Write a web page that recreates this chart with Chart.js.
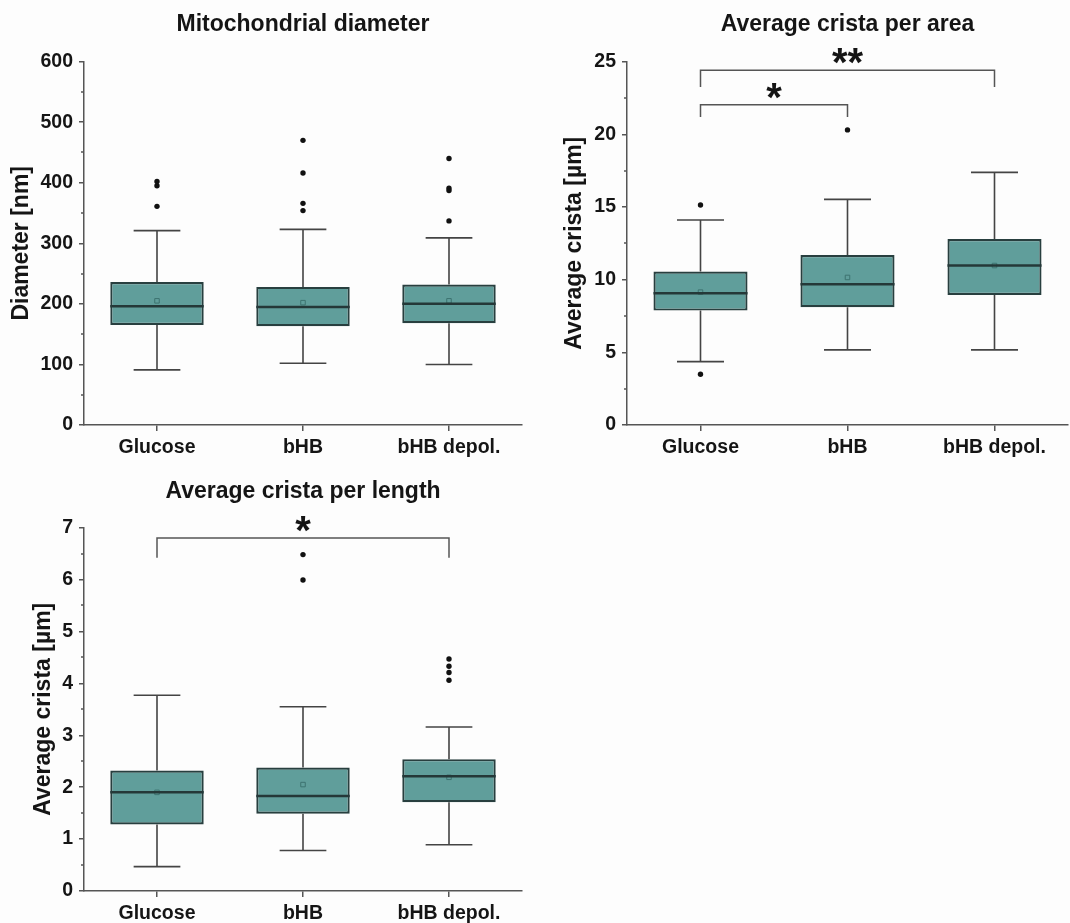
<!DOCTYPE html>
<html>
<head>
<meta charset="utf-8">
<script src="https://cdn.jsdelivr.net/npm/chart.js@4.4.1/dist/chart.umd.min.js"></script>
<style>
  html, body { margin: 0; padding: 0; background: #fdfdfd; overflow: hidden; }
  body { width: 1070px; height: 923px; position: relative; }
  canvas { position: absolute; }
  #c1 { left: 0; top: 0; }
  #c2 { left: 540px; top: 0; }
  #c3 { left: 0; top: 470px; }
</style>
</head>
<body>
<canvas id="c1" width="530" height="465"></canvas>
<canvas id="c2" width="533" height="465"></canvas>
<canvas id="c3" width="530" height="453"></canvas>

<script>
// DATOS
const categories = ['Glucose', 'bHB', 'bHB depol.']

// Mitochondrial diameter [nm]
const diamMin = [91, 102, 100]
const diamQ1 = [165, 163, 168]
const diamMedian = [196, 195, 200]
const diamQ3 = [236, 228, 232]
const diamMax = [321, 323, 309]
const diamMean = [205, 202, 205]
const diamOutliers = [[361, 395, 402], [354, 366, 416, 470], [337, 387, 391, 440]]
const diamTicks = [0, 600, 100]

// Average crista per area
const areaMin = [4.36, 5.17, 5.17]
const areaQ1 = [7.87, 8.1, 8.95]
const areaMedian = [9.07, 9.69, 10.97]
const areaQ3 = [10.56, 11.7, 12.79]
const areaMax = [14.1, 15.52, 17.38]
const areaMean = [9.14, 10.15, 10.97]
const areaOutliers = [[3.49, 15.13], [20.3], []]
const areaTicks = [0, 25, 5]
const areaBrackets = [
    { from: 0, to: 2, y: 24.4, drop: 23.25, label: '**' },
    { from: 0, to: 1, y: 22.04, drop: 21.19, label: '*' }
]

// Average crista per length
const lenMin = [0.47, 0.78, 0.89]
const lenQ1 = [1.28, 1.49, 1.71]
const lenMedian = [1.90, 1.83, 2.21]
const lenQ3 = [2.32, 2.38, 2.54]
const lenMax = [3.77, 3.55, 3.16]
const lenMean = [1.90, 2.05, 2.19]
const lenOutliers = [[], [5.99, 6.48], [4.06, 4.21, 4.33, 4.47]]
const lenTicks = [0, 7, 1]
const lenBrackets = [
    { from: 0, to: 2, y: 6.8, drop: 6.42, label: '*' }
]

const FONT = "'Liberation Sans', Arial, sans-serif"
const AXIS = '#555555'
const TEXT = '#151515'

// BIGOTES, MEDIANA, TICKS MENORES Y CORCHETES
const boxExtras = {
    id: 'boxExtras',
    afterDatasetsDraw: (chart, args, o) => {
        const ctx = chart.ctx
        const y = chart.scales.y
        const bars = chart.getDatasetMeta(0).data
        ctx.save()
        bars.forEach((bar, i) => {
            const x = bar.x
            const half = bar.width / 2
            // bigotes
            ctx.strokeStyle = '#444'
            ctx.lineWidth = 1.6
            ctx.beginPath()
            ctx.moveTo(x, y.getPixelForValue(o.q3[i]))
            ctx.lineTo(x, y.getPixelForValue(o.max[i]))
            ctx.moveTo(x - half / 2, y.getPixelForValue(o.max[i]))
            ctx.lineTo(x + half / 2, y.getPixelForValue(o.max[i]))
            ctx.moveTo(x, y.getPixelForValue(o.q1[i]))
            ctx.lineTo(x, y.getPixelForValue(o.min[i]))
            ctx.moveTo(x - half / 2, y.getPixelForValue(o.min[i]))
            ctx.lineTo(x + half / 2, y.getPixelForValue(o.min[i]))
            ctx.stroke()
            // mediana
            ctx.strokeStyle = '#243838'
            ctx.lineWidth = 2.5
            ctx.beginPath()
            ctx.moveTo(x - half, y.getPixelForValue(o.median[i]))
            ctx.lineTo(x + half, y.getPixelForValue(o.median[i]))
            ctx.stroke()
        })
        ctx.restore()
    },
    afterDraw: (chart, args, o) => {
        const ctx = chart.ctx
        const y = chart.scales.y
        const x = chart.scales.x
        ctx.save()
        // ticks menores
        const ticks = y.ticks
        ctx.strokeStyle = AXIS
        ctx.lineWidth = 1.5
        ctx.beginPath()
        for (let k = 0; k < ticks.length - 1; k++) {
            const mid = (ticks[k].value + ticks[k + 1].value) / 2
            const py = Math.round(y.getPixelForValue(mid))
            ctx.moveTo(y.right - 3, py)
            ctx.lineTo(y.right, py)
        }
        ctx.stroke()
        // corchetes de significancia
        ;(o.brackets || []).forEach(b => {
            const x1 = x.getPixelForValue(b.from)
            const x2 = x.getPixelForValue(b.to)
            const py = y.getPixelForValue(b.y)
            const pd = y.getPixelForValue(b.drop)
            ctx.strokeStyle = AXIS
            ctx.lineWidth = 1.5
            ctx.beginPath()
            ctx.moveTo(x1, pd)
            ctx.lineTo(x1, py)
            ctx.lineTo(x2, py)
            ctx.lineTo(x2, pd)
            ctx.stroke()
            ctx.fillStyle = TEXT
            ctx.font = `bold 40px ${FONT}`
            ctx.textAlign = 'center'
            ctx.textBaseline = 'alphabetic'
            ctx.fillText(b.label, (x1 + x2) / 2, py + 6)
        })
        ctx.restore()
    }
}

const makeBox = (id, title, yTitle, ticksDef, s, brackets, lay) => {
    const outliers = []
    s.outliers.forEach((list, i) => list.forEach(v => outliers.push({ x: categories[i], y: v })))

    new Chart(document.getElementById(id), {
        type: 'bar',
        data: {
            labels: categories,
            datasets: [{
                type: 'bar',
                data: categories.map((c, i) => [s.q1[i], s.q3[i]]),
                backgroundColor: '#609e9b',
                borderColor: '#283f3f',
                borderWidth: 2.2,
                borderSkipped: false,
                categoryPercentage: 1,
                barPercentage: 0.64,
                order: 3
            }, {
                type: 'line',
                data: s.mean,
                showLine: false,
                pointStyle: 'rect',
                pointRadius: 3.2,
                pointBorderWidth: 1,
                pointBorderColor: '#3d7370',
                pointBackgroundColor: 'rgba(0,0,0,0)',
                order: 1
            }, {
                type: 'line',
                data: outliers,
                showLine: false,
                pointStyle: 'circle',
                pointRadius: 2.7,
                pointBorderWidth: 0,
                pointBackgroundColor: '#111',
                order: 2
            }]
        },
        options: {
            responsive: false,
            animation: false,
            layout: { padding: { left: 0, right: lay.right, top: 0, bottom: 0 } },
            scales: {
                x: {
                    type: 'category',
                    offset: true,
                    afterFit: (scale) => { scale.height = lay.xHeight },
                    grid: { drawOnChartArea: false, offset: false, tickLength: 6, color: AXIS, lineWidth: 1.5 },
                    border: { color: AXIS, width: 1.5 },
                    ticks: { color: TEXT, padding: 5, font: { family: FONT, size: 19.5, weight: 'bold' } }
                },
                y: {
                    min: ticksDef[0],
                    max: ticksDef[1],
                    afterFit: (scale) => { scale.width = lay.yWidth },
                    grid: { drawOnChartArea: false, tickLength: 5, color: AXIS, lineWidth: 1.5 },
                    border: { color: AXIS, width: 1.5 },
                    ticks: { stepSize: ticksDef[2], color: TEXT, padding: 6, font: { family: FONT, size: 19.5, weight: 'bold' } },
                    title: {
                        display: true, text: yTitle, color: TEXT,
                        padding: { top: lay.yTitleTop, bottom: 4 },
                        font: { family: FONT, size: 23, weight: 'bold' }
                    }
                }
            },
            plugins: {
                legend: { display: false },
                tooltip: { enabled: false },
                title: {
                    display: true,
                    text: title,
                    fullSize: false,
                    color: TEXT,
                    font: { family: FONT, size: 23, weight: 'bold' },
                    padding: { top: lay.titleTop, bottom: lay.titleBottom }
                },
                boxExtras: { ...s, brackets: brackets }
            }
        },
        plugins: [boxExtras]
    })
}

makeBox('c1', 'Mitochondrial diameter', 'Diameter [nm]', diamTicks,
    { min: diamMin, q1: diamQ1, median: diamMedian, q3: diamQ3, max: diamMax, mean: diamMean, outliers: diamOutliers },
    [], { right: 8, yWidth: 84, xHeight: 40, yTitleTop: 8, titleTop: 11, titleBottom: 23 })

makeBox('c2', 'Average crista per area', 'Average crista [µm]', areaTicks,
    { min: areaMin, q1: areaQ1, median: areaMedian, q3: areaQ3, max: areaMax, mean: areaMean, outliers: areaOutliers },
    areaBrackets, { right: 0, yWidth: 87, xHeight: 40, yTitleTop: 21, titleTop: 11, titleBottom: 23 })

makeBox('c3', 'Average crista per length', 'Average crista [µm]', lenTicks,
    { min: lenMin, q1: lenQ1, median: lenMedian, q3: lenQ3, max: lenMax, mean: lenMean, outliers: lenOutliers },
    lenBrackets, { right: 8, yWidth: 84, xHeight: 32, yTitleTop: 30, titleTop: 8, titleBottom: 22 })
</script>
</body>
</html>
